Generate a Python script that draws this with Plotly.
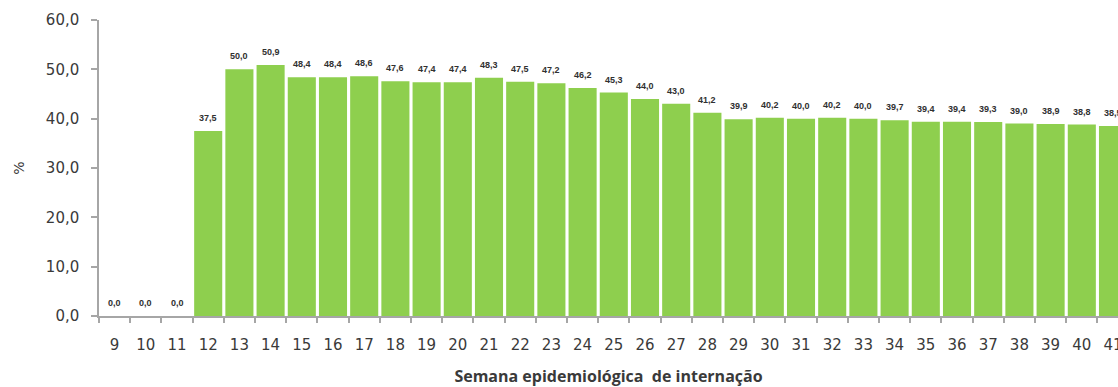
import plotly.graph_objects as go

# Semana epidemiológica de internação e percentual por semana
semanas = list(range(9, 42))
percentual = [0.0, 0.0, 0.0, 37.5, 50.0, 50.9, 48.4, 48.4, 48.6, 47.6, 47.4,
              47.4, 48.3, 47.5, 47.2, 46.2, 45.3, 44.0, 43.0, 41.2, 39.9, 40.2,
              40.0, 40.2, 40.0, 39.7, 39.4, 39.4, 39.3, 39.0, 38.9, 38.8, 38.5]

y_ticks = [0, 10, 20, 30, 40, 50, 60]

TEXT = "#3A3A3A"
AXIS = "#A6A6A6"
GREEN = "#8ECF4E"

fig = go.Figure(
    go.Bar(
        x=semanas,
        y=percentual,
        marker=dict(color=GREEN, line=dict(width=0)),
        hoverinfo="x+y",
    )
)

# value labels above each bar
for s, v in zip(semanas, percentual):
    fig.add_annotation(
        x=s, y=v, text=f"{v:.1f}".replace(".", ","),
        showarrow=False, yanchor="bottom", yshift=6,
        font=dict(family="Liberation Sans Narrow, Arial Narrow, Liberation Sans",
                  size=9, color="#303030", weight="bold"),
    )

fig.update_layout(
    width=1118,
    height=387,
    margin=dict(l=99, r=0, t=20, b=71),
    paper_bgcolor="white",
    plot_bgcolor="white",
    bargap=0.1,
    separators=",.",
    showlegend=False,
    font=dict(family="DejaVu Sans, Verdana", color=TEXT),
    xaxis=dict(
        range=[8.5, 41.16],
        automargin=False,
        tickmode="array",
        tickvals=semanas,
        ticktext=[str(s) for s in semanas],
        ticks="",
        ticklabelstandoff=14,
        ticklabeloverflow="allow",
        tickfont=dict(size=15, color=TEXT),
        showgrid=False,
        zeroline=False,
        showline=True,
        linecolor=AXIS,
        linewidth=1.5,
        minor=dict(tick0=8.5, dtick=1, ticks="outside", ticklen=5,
                   tickcolor=AXIS, tickwidth=1.5, showgrid=False),
        title=dict(text="<b>Semana epidemiológica  de internação</b>",
                   font=dict(family="Open Sans, DejaVu Sans", size=16, color=TEXT),
                   standoff=31),
    ),
    yaxis=dict(
        range=[0, 60],
        automargin=False,
        tickmode="array",
        tickvals=y_ticks,
        tickformat=".1f",
        ticks="outside",
        ticklen=6,
        tickcolor=AXIS,
        tickwidth=1.5,
        ticklabelstandoff=9,
        tickfont=dict(size=15, color=TEXT),
        showgrid=False,
        zeroline=False,
        showline=True,
        linecolor=AXIS,
        linewidth=1.5,
        title=dict(text="%", font=dict(size=14, color=TEXT), standoff=18),
    ),
)

fig.write_html("out.html")
